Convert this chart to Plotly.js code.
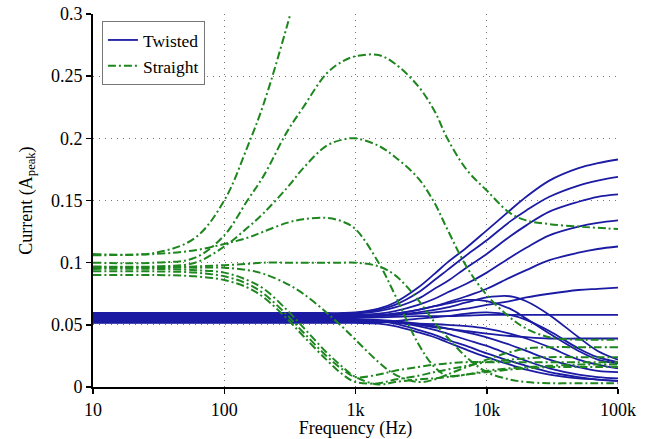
<!DOCTYPE html>
<html>
<head>
<meta charset="utf-8">
<script src="https://cdn.plot.ly/plotly-3.0.1.min.js"></script>
<style>
  html, body { margin: 0; padding: 0; background: #fff; }
  #chart { width: 665px; height: 439px; }
  #chart svg text { font-family: "Times New Roman", Tinos, Times, "DejaVu Serif", serif !important; }
</style>
</head>
<body>
<div id="chart"></div>
<script>
// Frequency grid (Hz) shared by every curve
const freqHz = [10, 30, 60, 100, 150, 200, 300, 400, 600, 800, 1000, 1500, 2000,
                3000, 4000, 5000, 7000, 10000, 15000, 20000, 30000, 50000, 70000, 100000];

// Axis tick labels
const xTickVals = [10, 100, 1000, 10000, 100000];
const xTickText = ['10', '100', '1k', '10k', '100k'];
const yTickVals = [0, 0.05, 0.1, 0.15, 0.2, 0.25, 0.3];
const yTickText = ['0', '0.05', '0.1', '0.15', '0.2', '0.25', '0.3'];

// Twisted pair: peak current (A) per frequency
const twisted01 = [0.0595,0.0595,0.0595,0.0595,0.0595,0.0595,0.0595,0.0595,0.0595,0.0595,0.060,0.063,0.068,0.080,0.091,0.100,0.112,0.126,0.142,0.153,0.166,0.176,0.180,0.183];
const twisted02 = [0.059,0.059,0.059,0.059,0.059,0.059,0.059,0.059,0.059,0.059,0.0595,0.062,0.066,0.076,0.086,0.094,0.106,0.118,0.133,0.142,0.153,0.162,0.166,0.169];
const twisted03 = [0.058,0.058,0.058,0.058,0.058,0.058,0.058,0.058,0.058,0.058,0.059,0.061,0.064,0.071,0.079,0.085,0.096,0.107,0.121,0.130,0.141,0.149,0.153,0.155];
const twisted04 = [0.0575,0.0575,0.0575,0.0575,0.0575,0.0575,0.0575,0.0575,0.0575,0.0575,0.058,0.059,0.061,0.066,0.071,0.076,0.083,0.092,0.104,0.112,0.122,0.129,0.132,0.134];
const twisted05 = [0.057,0.057,0.057,0.057,0.057,0.057,0.057,0.057,0.057,0.057,0.0575,0.058,0.059,0.062,0.065,0.068,0.073,0.079,0.088,0.094,0.102,0.108,0.111,0.113];
const twisted06 = [0.0565,0.0565,0.0565,0.0565,0.0565,0.0565,0.0565,0.0565,0.0565,0.0565,0.057,0.057,0.058,0.059,0.060,0.061,0.063,0.066,0.069,0.072,0.075,0.078,0.079,0.080];
const twisted07 = [0.056,0.056,0.056,0.056,0.056,0.056,0.056,0.056,0.056,0.056,0.056,0.056,0.0565,0.057,0.057,0.057,0.0575,0.058,0.058,0.058,0.058,0.058,0.058,0.058];
const twisted08 = [0.0555,0.0555,0.0555,0.0555,0.0555,0.0555,0.0555,0.0555,0.0555,0.0555,0.056,0.057,0.058,0.060,0.062,0.064,0.068,0.072,0.073,0.069,0.058,0.040,0.029,0.022];
const twisted09 = [0.055,0.055,0.055,0.055,0.055,0.055,0.055,0.055,0.055,0.055,0.0555,0.057,0.059,0.062,0.065,0.067,0.070,0.069,0.063,0.055,0.043,0.029,0.022,0.019];
const twisted10 = [0.0545,0.0545,0.0545,0.0545,0.0545,0.0545,0.0545,0.0545,0.0545,0.0545,0.0545,0.054,0.053,0.051,0.049,0.047,0.045,0.043,0.041,0.040,0.039,0.039,0.039,0.039];
const twisted11 = [0.054,0.054,0.054,0.054,0.054,0.054,0.054,0.054,0.054,0.054,0.054,0.053,0.051,0.046,0.042,0.038,0.033,0.027,0.021,0.017,0.012,0.008,0.006,0.005];
const twisted12 = [0.0535,0.0535,0.0535,0.0535,0.0535,0.0535,0.0535,0.0535,0.0535,0.0535,0.0535,0.053,0.052,0.049,0.046,0.043,0.038,0.033,0.026,0.021,0.015,0.010,0.008,0.007];
const twisted13 = [0.053,0.053,0.053,0.053,0.053,0.053,0.053,0.053,0.053,0.053,0.053,0.0525,0.052,0.050,0.048,0.047,0.044,0.040,0.034,0.029,0.022,0.016,0.013,0.012];
const twisted14 = [0.0525,0.0525,0.0525,0.0525,0.0525,0.0525,0.0525,0.0525,0.0525,0.0525,0.0525,0.0522,0.052,0.051,0.0505,0.050,0.049,0.047,0.043,0.039,0.032,0.022,0.018,0.015];
const twisted15 = [0.052,0.052,0.052,0.052,0.052,0.052,0.052,0.052,0.052,0.052,0.052,0.0525,0.053,0.055,0.056,0.057,0.059,0.060,0.058,0.054,0.045,0.031,0.024,0.020];
const twisted16 = [0.0515,0.0515,0.0515,0.0515,0.0515,0.0515,0.0515,0.0515,0.0515,0.0515,0.0515,0.051,0.049,0.044,0.040,0.036,0.030,0.024,0.018,0.014,0.010,0.007,0.006,0.005];

// Straight wires: peak current (A) per frequency
const straight01 = [0.107,0.108,0.120,0.150,0.193,0.228,0.290,0.340,null,null,null,null,null,null,null,null,null,null,null,null,null,null,null,null];
const straight02 = [0.100,0.100,0.104,0.122,0.150,0.170,0.205,0.225,0.252,0.262,0.266,0.267,0.260,0.242,0.222,0.200,0.175,0.158,0.140,0.134,0.131,0.129,0.128,0.127];
const straight03 = [0.097,0.097,0.100,0.113,0.128,0.140,0.160,0.176,0.194,0.199,0.200,0.194,0.185,0.168,0.148,0.127,0.097,0.074,0.056,0.047,0.040,0.038,0.038,0.038];
const straight04 = [0.106,0.107,0.110,0.115,0.120,0.125,0.132,0.135,0.136,0.133,0.127,0.100,0.074,0.035,0.016,0.009,0.010,0.013,0.015,0.016,0.017,0.018,0.018,0.018];
const straight05 = [0.096,0.096,0.097,0.098,0.099,0.100,0.100,0.100,0.100,0.100,0.100,0.097,0.090,0.070,0.052,0.040,0.024,0.012,0.006,0.004,0.003,0.003,0.003,0.003];
const straight06 = [0.095,0.095,0.094,0.092,0.086,0.079,0.062,0.048,0.028,0.016,0.008,0.002,0.004,0.006,0.007,0.008,0.010,0.012,0.014,0.015,0.016,0.016,0.016,0.016];
const straight07 = [0.093,0.093,0.092,0.089,0.083,0.075,0.058,0.044,0.025,0.014,0.008,0.010,0.013,0.016,0.018,0.019,0.020,0.020,0.020,0.020,0.020,0.020,0.020,0.020];
const straight08 = [0.090,0.090,0.089,0.086,0.080,0.072,0.055,0.041,0.022,0.010,0.004,0.003,0.006,0.009,0.012,0.014,0.017,0.020,0.022,0.023,0.024,0.024,0.024,0.024];
const straight09 = [0.0965,0.0965,0.096,0.096,0.094,0.091,0.083,0.075,0.060,0.048,0.038,0.020,0.010,0.004,0.006,0.010,0.016,0.022,0.028,0.031,0.032,0.032,0.032,0.032];

const twistedSeries = [twisted01, twisted02, twisted03, twisted04, twisted05, twisted06, twisted07, twisted08,
                       twisted09, twisted10, twisted11, twisted12, twisted13, twisted14, twisted15, twisted16];
const straightSeries = [straight01, straight02, straight03, straight04, straight05, straight06, straight07, straight08, straight09];

const blue = '#1b1ba3';
const green = '#1e861e';
const serif = 'Times New Roman';

const traces = [];
twistedSeries.forEach((vals, i) => {
  traces.push({
    x: freqHz, y: vals, type: 'scatter', mode: 'lines',
    name: 'Twisted', legendgroup: 'twisted', showlegend: i === 0,
    line: { color: blue, width: 1.8, shape: 'spline', smoothing: 1 },
    connectgaps: false, hoverinfo: 'skip'
  });
});
straightSeries.forEach((vals, i) => {
  traces.push({
    x: freqHz, y: vals, type: 'scatter', mode: 'lines',
    name: 'Straight', legendgroup: 'straight', showlegend: i === 0,
    line: { color: green, width: 2, dash: '8px,3px,2px,3px', shape: 'spline', smoothing: 1 },
    connectgaps: false, hoverinfo: 'skip'
  });
});

const axisCommon = {
  showline: true, linecolor: '#000', linewidth: 2,
  ticks: 'outside', ticklen: 5, tickwidth: 1.5, tickcolor: '#000',
  showgrid: true, gridcolor: '#777', griddash: '1.2px,4.8px', gridwidth: 1.2,
  zeroline: false, mirror: false,
  tickfont: { family: serif, size: 18, color: '#000' }
};

const layout = {
  width: 665, height: 439,
  margin: { l: 93, r: 47, t: 14, b: 52 },
  paper_bgcolor: '#fff', plot_bgcolor: '#fff',
  font: { family: serif, size: 18, color: '#000' },
  showlegend: true,
  legend: {
    x: 0.017, y: 0.981, xanchor: 'left', yanchor: 'top',
    bgcolor: '#fff', bordercolor: '#777', borderwidth: 1,
    font: { family: serif, size: 17.5, color: '#000' },
    tracegroupgap: 0
  },
  xaxis: Object.assign({}, axisCommon, {
    type: 'log', range: [1, 5],
    tickvals: xTickVals, ticktext: xTickText,
    title: { text: 'Frequency (Hz)', standoff: 2,
             font: { family: serif, size: 18, color: '#000' } }
  }),
  yaxis: Object.assign({}, axisCommon, {
    range: [0, 0.3],
    tickvals: yTickVals, ticktext: yTickText,
    title: { text: 'Current (A<sub>peak</sub>)', standoff: 14,
             font: { family: serif, size: 18, color: '#000' } }
  })
};

Plotly.newPlot('chart', traces, layout, { staticPlot: true, displayModeBar: false });
</script>
</body>
</html>
